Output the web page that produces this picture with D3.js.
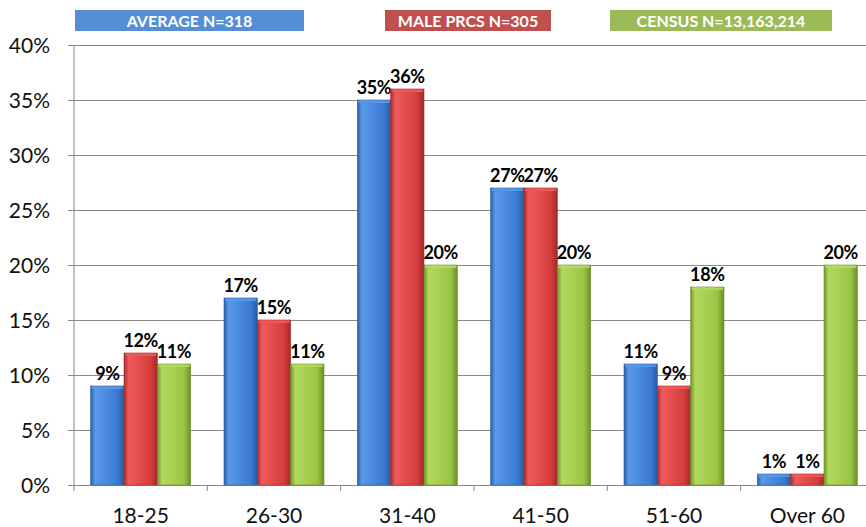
<!DOCTYPE html>
<html lang="en">
<head>
  <meta charset="UTF-8">
  <title>Age distribution</title>
  <style>
    body { margin: 0; background: #fff; }
    svg { display: block; }
  </style>
</head>
<body>
  <svg id="chart" width="866" height="527"></svg>

  <script src="https://cdn.jsdelivr.net/npm/d3@7/dist/d3.min.js"></script>
  <script>

    var categories = ["18-25", "26-30", "31-40", "41-50", "51-60", "Over 60"];
    var seriesNames = ["AVERAGE N=318", "MALE PRCS N=305", "CENSUS N=13,163,214"];
    var average = [9, 17, 35, 27, 11, 1];
    var malePrcs = [12, 15, 36, 27, 9, 1];
    var census = [11, 11, 20, 20, 18, 20];
    var yTicks = [0, 5, 10, 15, 20, 25, 30, 35, 40];

    var series = [average, malePrcs, census];
    var legendFill = ["#558ed5", "#c0504d", "#9bbb59"];
    // dark edge, light, mid, dark edge
    var barShades = [
      ["#2c5fa8", "#5a98e8", "#3a7ad3", "#2a5aa0"],
      ["#a82c2c", "#ee5a5a", "#d63d3d", "#a02a2a"],
      ["#6f962c", "#b3d860", "#9cc443", "#6a902a"]
    ];

    var svg = d3.select("#chart"),
        width = +svg.attr("width"),
        height = +svg.attr("height"),
        mLeft = 74, mTop = 45, mBottom = 485;

    var x = d3.scaleBand()
      .domain(categories)
      .range([mLeft, mLeft + 800])
      .paddingInner(0.25)
      .paddingOuter(0.125);

    var xs = d3.scaleBand()
      .domain(d3.range(series.length))
      .range([0, x.bandwidth()]);

    var y = d3.scaleLinear()
      .domain([0, 40])
      .range([mBottom, mTop]);

    // gradients
    var defs = svg.append("defs");
    barShades.forEach(function (s, i) {
      var g = defs.append("linearGradient")
        .attr("id", "grad" + i)
        .attr("x1", 0).attr("x2", 1).attr("y1", 0).attr("y2", 0);
      g.append("stop").attr("offset", "0%").attr("stop-color", s[0]);
      g.append("stop").attr("offset", "14%").attr("stop-color", s[1]);
      g.append("stop").attr("offset", "80%").attr("stop-color", s[2]);
      g.append("stop").attr("offset", "100%").attr("stop-color", s[3]);
    });

    // y axis with gridlines
    var yAxis = svg.append("g")
      .attr("transform", "translate(" + mLeft + ",0)")
      .call(d3.axisLeft(y)
        .tickValues(yTicks)
        .tickSize(6)
        .tickFormat(function (d) { return d + "%"; }));
    yAxis.select(".domain").remove();
    yAxis.selectAll(".tick line")
      .attr("x2", width - mLeft)
      .attr("x1", -6)
      .attr("stroke", "#8a8a8a");
    yAxis.selectAll(".tick text")
      .attr("x", -24)
      .attr("dy", "0.36em")
      .attr("fill", "#111")
      .style("font-family", "Lato, 'Open Sans', sans-serif")
      .style("font-size", "21px");

    svg.append("line")
      .attr("x1", mLeft).attr("x2", mLeft)
      .attr("y1", y(40)).attr("y2", y(0))
      .attr("stroke", "#8a8a8a");

    // x axis ticks at group boundaries
    var gap = (x.step() - x.bandwidth()) / 2;
    svg.append("g").selectAll("line")
      .data(categories)
      .join("line")
      .attr("x1", function (d) { return x(d) - gap; })
      .attr("x2", function (d) { return x(d) - gap; })
      .attr("y1", y(0)).attr("y2", y(0) + 6)
      .attr("stroke", "#8a8a8a");

    svg.append("g").selectAll("text")
      .data(categories)
      .join("text")
      .attr("x", function (d) { return x(d) + x.bandwidth() / 2; })
      .attr("y", 523)
      .attr("text-anchor", "middle")
      .attr("fill", "#111")
      .style("font-family", "Lato, 'Open Sans', sans-serif")
      .style("font-size", "21px")
      .text(function (d) { return d; });

    // bars
    series.forEach(function (vals, si) {
      var g = svg.append("g");
      var data = categories.map(function (c, i) { return { cat: c, v: vals[i] }; });

      g.selectAll("rect.bar")
        .data(data)
        .join("rect")
        .attr("class", "bar")
        .attr("x", function (d) { return x(d.cat) + xs(si); })
        .attr("y", function (d) { return y(d.v); })
        .attr("width", xs.bandwidth())
        .attr("height", function (d) { return y(0) - y(d.v); })
        .attr("fill", "url(#grad" + si + ")")
        .attr("stroke", barShades[si][3])
        .attr("stroke-width", 0.6);

      g.selectAll("rect.hi")
        .data(data)
        .join("rect")
        .attr("class", "hi")
        .attr("x", function (d) { return x(d.cat) + xs(si) + 1; })
        .attr("y", function (d) { return y(d.v) + 0.5; })
        .attr("width", xs.bandwidth() - 2)
        .attr("height", 2.5)
        .attr("fill", barShades[si][1])
        .attr("opacity", 0.9);

      g.selectAll("text")
        .data(data)
        .join("text")
        .attr("x", function (d) { return x(d.cat) + xs(si) + xs.bandwidth() / 2; })
        .attr("y", function (d) { return y(d.v) - 6; })
        .attr("text-anchor", "middle")
        .attr("fill", "#000")
        .style("font-family", "Lato, 'Open Sans', sans-serif")
        .style("font-weight", "bold")
        .style("font-size", "18px")
        .style("letter-spacing", "-0.4px")
        .text(function (d) { return d.v + "%"; });
    });

    // legend
    var legendX = [75, 385, 610], legendW = [229, 166, 222];
    var lg = svg.append("g").selectAll("g")
      .data(seriesNames)
      .join("g");
    lg.append("rect")
      .attr("x", function (d, i) { return legendX[i]; })
      .attr("y", 10)
      .attr("width", function (d, i) { return legendW[i]; })
      .attr("height", 21)
      .attr("fill", function (d, i) { return legendFill[i]; });
    lg.append("text")
      .attr("x", function (d, i) { return legendX[i] + legendW[i] / 2; })
      .attr("y", 26.5)
      .attr("text-anchor", "middle")
      .attr("fill", "#fff")
      .style("font-family", "Lato, 'Open Sans', sans-serif")
      .style("font-weight", "bold")
      .style("font-size", "16px")
      .text(function (d) { return d; });
  </script>
</body>
</html>
